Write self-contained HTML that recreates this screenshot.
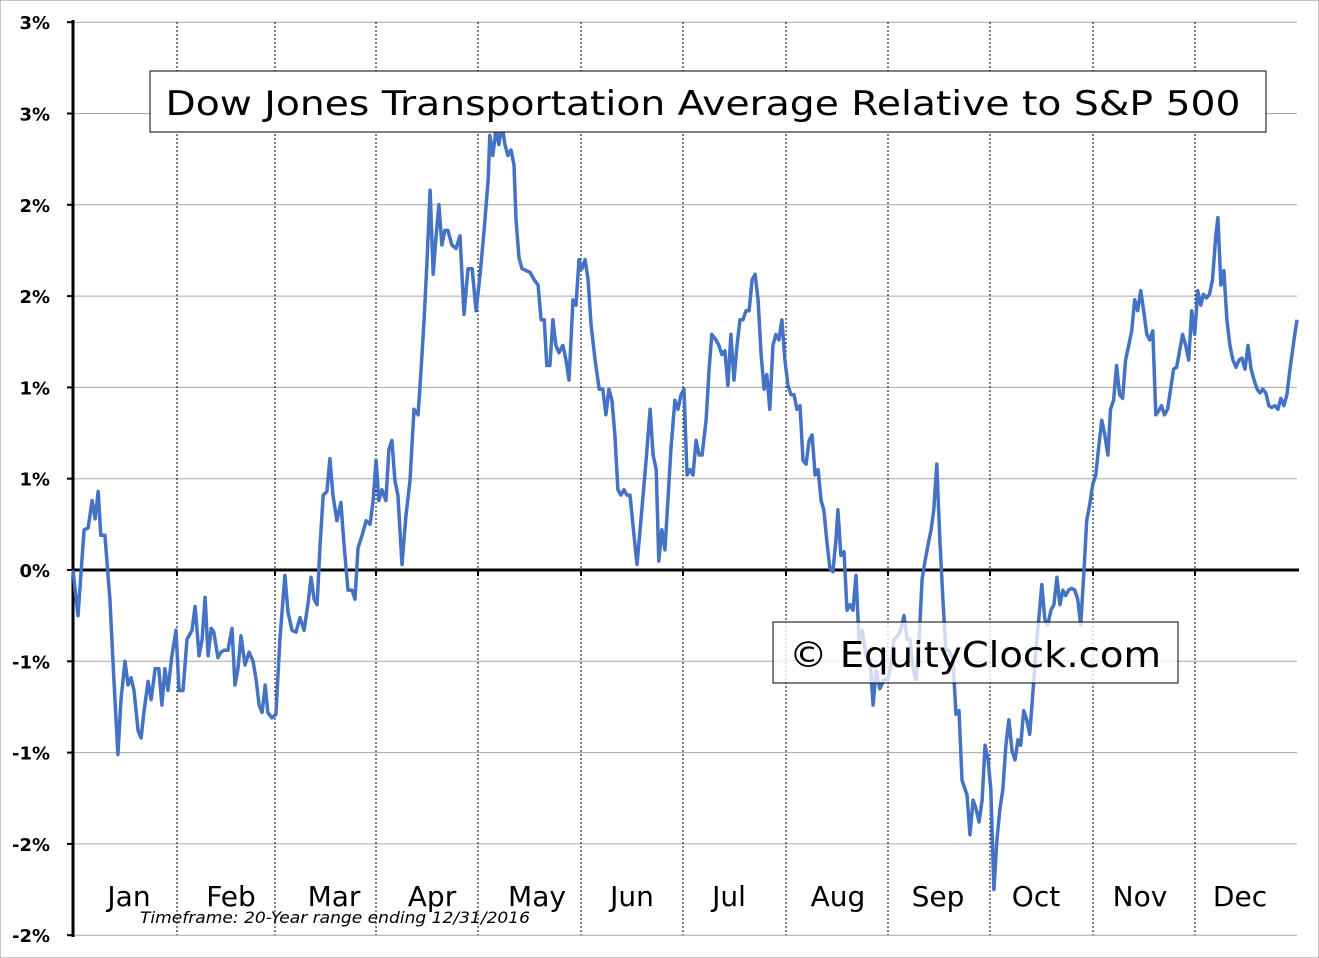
<!DOCTYPE html>
<html><head><meta charset="utf-8"><style>
html,body{margin:0;padding:0;background:#fff;}
svg{display:block;font-family:"DejaVu Sans","Liberation Sans",sans-serif;}
</style></head><body>
<svg id="chart" width="1319" height="958" viewBox="0 0 1319 958" xmlns="http://www.w3.org/2000/svg">
<rect x="0" y="0" width="1319" height="958" fill="#fff" stroke="#888" stroke-width="1"/>
<g id="grid"></g>
<g id="axes"></g>
<polyline id="series" fill="none" stroke="#4472c4" stroke-width="3.5" stroke-linejoin="round"/>
<rect x="150" y="71" width="1116" height="61" fill="#fff" stroke="#000" stroke-width="1"/>
<text x="703" y="115" font-size="34" text-anchor="middle" fill="#000" textLength="1075" lengthAdjust="spacingAndGlyphs">Dow Jones Transportation Average Relative to S&amp;P 500</text>
<rect x="773" y="622" width="405" height="61" fill="rgba(255,255,255,0.75)" stroke="#000" stroke-width="1"/>
<text x="975" y="667" font-size="36" text-anchor="middle" fill="#000" textLength="372" lengthAdjust="spacingAndGlyphs">© EquityClock.com</text>
<text x="140" y="923" font-size="16" font-style="italic" fill="#000" textLength="390" lengthAdjust="spacingAndGlyphs">Timeframe: 20-Year range ending 12/31/2016</text>
</svg>
<script>
const yTickValues=[3,2.5,2,1.5,1,0.5,0,-0.5,-1,-1.5,-2];
const yTickLabels=["3%","3%","2%","2%","1%","1%","0%","-1%","-1%","-2%","-2%"];
const months=["Jan","Feb","Mar","Apr","May","Jun","Jul","Aug","Sep","Oct","Nov","Dec"];
const days=[0,1.5,3.3,4.5,5.7,6.6,7.5,8.3,9.5,11.0,12.2,13.4,14.3,15.5,16.4,17.3,18.2,19.4,20.3,21.2,22.4,23.3,24.5,25.6,26.5,27.4,28.3,29.5,30.7,31.6,32.8,34.0,35.5,36.4,37.6,38.5,39.4,40.3,41.2,42.0,43.2,44.1,45.0,46.2,47.4,48.3,49.2,50.1,51.3,52.5,53.7,54.6,55.5,56.4,57.3,58.1,59.3,60.5,61.7,63.2,64.1,65.3,66.5,67.7,68.9,70.1,71.0,71.9,72.8,73.7,74.6,75.7,76.6,77.5,78.7,79.9,80.8,82.0,83.2,84.1,85.0,86.2,87.4,88.6,89.5,90.4,91.2,92.1,93.3,94.2,95.1,96.0,96.9,98.1,99.3,100.5,101.7,102.9,103.8,104.7,105.6,106.5,107.4,108.2,109.1,110.0,110.9,111.8,113.0,114.2,115.4,116.6,117.8,119.0,120.2,121.4,122.6,123.8,124.3,125.2,126.1,127.0,127.9,128.8,129.7,130.6,131.5,132.1,133.0,133.9,135.1,136.3,137.5,138.7,139.6,140.5,141.3,142.2,143.1,144.0,144.9,146.1,147.0,147.9,149.1,150.0,150.9,151.8,152.7,153.6,154.5,155.7,156.9,158.0,158.9,159.8,160.7,161.6,162.5,163.4,164.3,165.2,166.1,167.3,168.2,169.1,170.0,170.9,172.1,173.0,173.9,174.7,175.6,176.5,177.4,178.3,179.5,180.4,181.3,182.2,183.1,184.0,184.9,185.8,186.7,187.6,188.8,189.7,190.5,191.7,192.6,193.5,194.4,195.3,196.2,197.1,198.0,198.9,199.8,200.7,201.6,202.5,203.4,204.3,205.2,206.1,206.9,207.8,208.7,209.6,210.5,211.4,212.3,213.2,214.1,215.0,215.9,216.8,217.7,218.6,219.5,220.4,221.3,222.2,223.1,223.9,224.8,225.7,226.6,227.5,228.1,229.0,229.9,230.8,231.7,232.6,233.5,234.4,235.3,236.5,237.7,238.6,239.5,240.6,241.8,243.0,243.9,244.8,246.0,246.9,247.8,248.7,249.6,250.5,251.4,252.3,253.2,254.1,255.0,255.9,256.7,257.6,258.5,259.4,260.3,261.2,262.4,263.3,264.2,265.1,266.0,266.6,267.5,268.4,269.3,270.2,271.1,272.0,272.9,273.7,274.6,275.5,276.4,277.3,278.2,279.1,280.0,280.9,281.8,282.6,283.5,284.4,285.3,286.2,287.1,288.0,288.9,289.8,290.7,291.6,292.5,293.4,294.3,295.2,296.0,296.9,297.8,298.7,299.6,300.5,301.4,302.3,303.2,304.1,305.0,305.9,306.8,307.7,308.6,309.4,310.3,311.2,312.1,313.0,313.9,314.8,315.7,316.6,317.5,318.4,319.3,320.2,321.1,322.0,322.9,323.7,324.6,325.5,326.4,327.3,328.2,329.1,330.0,330.9,331.8,332.7,333.6,334.5,335.4,336.3,337.1,338.0,338.9,339.8,340.8,341.4,342.3,343.2,344.1,345.0,345.9,346.8,347.7,348.6,349.5,350.4,351.3,352.2,353.1,354.0,354.8,355.7,356.6,357.5,358.4,359.3,360.2,361.1,362.0,362.9,364.1,365];
const values=[0,-0.25,0.22,0.23,0.38,0.28,0.43,0.19,0.19,-0.16,-0.60,-1.01,-0.71,-0.50,-0.63,-0.59,-0.66,-0.88,-0.92,-0.77,-0.61,-0.71,-0.54,-0.54,-0.74,-0.54,-0.66,-0.47,-0.33,-0.66,-0.66,-0.38,-0.33,-0.20,-0.47,-0.38,-0.15,-0.47,-0.32,-0.34,-0.48,-0.45,-0.44,-0.44,-0.32,-0.63,-0.54,-0.36,-0.52,-0.45,-0.50,-0.60,-0.74,-0.78,-0.63,-0.78,-0.81,-0.79,-0.38,-0.03,-0.23,-0.33,-0.34,-0.26,-0.33,-0.18,-0.04,-0.16,-0.19,0.14,0.41,0.43,0.61,0.41,0.27,0.37,0.14,-0.11,-0.11,-0.16,0.12,0.19,0.27,0.25,0.38,0.60,0.38,0.44,0.38,0.66,0.71,0.49,0.41,0.03,0.30,0.49,0.88,0.85,1.10,1.37,1.70,2.08,1.62,1.81,2.00,1.78,1.86,1.86,1.78,1.76,1.83,1.40,1.65,1.65,1.42,1.62,1.86,2.14,2.38,2.27,2.41,2.33,2.44,2.33,2.27,2.30,2.22,1.92,1.71,1.65,1.64,1.63,1.59,1.56,1.37,1.37,1.12,1.12,1.37,1.23,1.19,1.23,1.15,1.04,1.48,1.45,1.70,1.65,1.70,1.59,1.34,1.15,0.99,0.99,0.85,0.99,0.93,0.74,0.44,0.41,0.44,0.41,0.41,0.19,0.03,0.22,0.41,0.60,0.88,0.63,0.55,0.05,0.22,0.11,0.38,0.66,0.93,0.88,0.96,0.99,0.52,0.55,0.52,0.71,0.63,0.63,0.82,1.10,1.29,1.26,1.23,1.18,1.20,1.01,1.29,1.04,1.23,1.37,1.37,1.42,1.42,1.59,1.62,1.48,1.18,0.99,1.07,0.88,1.23,1.29,1.26,1.37,1.15,1.01,0.96,0.96,0.88,0.90,0.60,0.58,0.71,0.74,0.52,0.55,0.38,0.33,0.16,0.01,-0.01,0.16,0.33,0.08,0.10,-0.22,-0.19,-0.22,-0.03,-0.38,-0.33,-0.47,-0.49,-0.74,-0.55,-0.65,-0.60,-0.60,-0.52,-0.38,-0.36,-0.32,-0.25,-0.38,-0.38,-0.54,-0.60,-0.38,-0.05,0.05,0.14,0.22,0.33,0.58,0.16,-0.16,-0.44,-0.44,-0.49,-0.79,-0.77,-1.15,-1.20,-1.23,-1.45,-1.26,-1.31,-1.38,-1.26,-0.96,-1.04,-1.20,-1.75,-1.48,-1.31,-1.20,-0.96,-0.82,-0.99,-1.04,-0.93,-0.96,-0.77,-0.82,-0.90,-0.68,-0.44,-0.27,-0.08,-0.27,-0.30,-0.22,-0.19,-0.04,-0.19,-0.11,-0.14,-0.11,-0.10,-0.11,-0.16,-0.30,-0.03,0.27,0.36,0.47,0.52,0.68,0.82,0.74,0.63,0.88,0.93,1.12,0.96,0.94,1.15,1.23,1.31,1.48,1.42,1.53,1.42,1.29,1.26,1.31,0.85,0.87,0.90,0.85,0.88,0.99,1.10,1.11,1.20,1.29,1.23,1.15,1.42,1.29,1.53,1.45,1.51,1.49,1.51,1.59,1.83,1.93,1.56,1.64,1.37,1.23,1.15,1.11,1.15,1.16,1.10,1.23,1.10,1.04,0.99,0.97,0.99,0.97,0.90,0.89,0.90,0.88,0.94,0.90,0.96,1.10,1.26,1.37];
const X0=73,X1=1297,Y0=570,PX=182.6;
function yScale(v){return Y0-v*PX;}
function xScale(d){return X0+(X1-X0)*d/365;}
const NS="http://www.w3.org/2000/svg";
const grid=document.getElementById('grid'),axes=document.getElementById('axes');
function mk(tag,attrs,parent){const e=document.createElementNS(NS,tag);for(const k in attrs)e.setAttribute(k,attrs[k]);parent.appendChild(e);return e;}
yTickValues.forEach((v,i)=>{
  const y=yScale(v);
  if(v!==0){const g=mk('line',{x1:X0,x2:X1,y1:y,y2:y,stroke:'#a6a6a6','stroke-width':1},grid);
  
  }
  const t=mk('line',{x1:X0-6,x2:X0,y1:y,y2:y,stroke:'#000','stroke-width':2},axes);
  
  
  const l=mk('text',{x:50,y:y+7,'font-size':18,'font-weight':'bold','text-anchor':'end',fill:'#000'},axes);
  l.textContent=yTickLabels[i];
  
  
});
const gridX=[177,275,376,478,581,683,786,888,990,1093,1195];
const labelX=[129,231,334,432,537,632,729,838,938,1036,1140,1240];
months.forEach((m,i)=>{
  if(i<11){const xb=gridX[i];
  const g=mk('line',{x1:xb,x2:xb,y1:22,y2:935,stroke:'#000','stroke-width':1,'stroke-dasharray':'2,2'},grid);
  
  
  const t=mk('line',{x1:xb,x2:xb,y1:Y0,y2:Y0+6,stroke:'#000','stroke-width':2},axes);
  
  }
  const l=mk('text',{x:labelX[i],y:906,'font-size':28,'text-anchor':'middle',fill:'#000'},axes);
  l.textContent=m;
  
  
});
const ax=mk('line',{x1:X0,x2:X0,y1:20,y2:937,stroke:'#000','stroke-width':3},axes);


const z=mk('line',{x1:X0,x2:X1+2,y1:Y0,y2:Y0,stroke:'#000','stroke-width':3},axes);


const n=Math.min(days.length,values.length);
const pts=[];
for(let i=0;i<n;i++)pts.push(xScale(days[i]).toFixed(1)+','+yScale(values[i]).toFixed(1));
document.getElementById('series').setAttribute('points',pts.join(' '));
</script>
</body></html>
